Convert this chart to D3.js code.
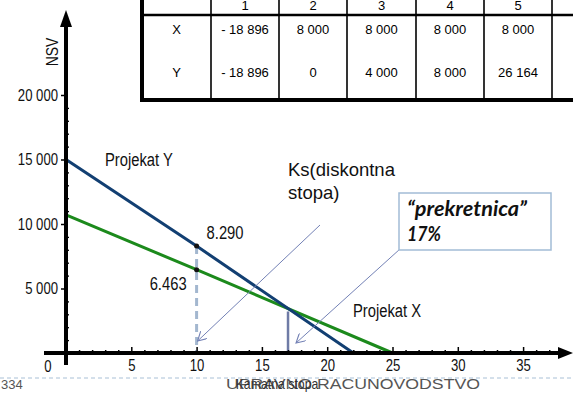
<!DOCTYPE html>
<html><head><meta charset="utf-8">
<script src="https://cdnjs.cloudflare.com/ajax/libs/d3/7.8.5/d3.min.js"></script>
<style>
html,body{margin:0;padding:0;background:#fff;}
svg{display:block;}
</style></head>
<body>
<script>
// ---- data ----
const projYRates = [0, 10, 22];
const projYNpv   = [15000, 8290, 0];
const projXRates = [0, 10, 25];
const projXNpv   = [10700, 6463, 0];
const crossRate = 17;
const crossNpv = 3450;
const discRate = 10;
const xTicks = [5, 10, 15, 20, 25, 30, 35];
const yTicks = [5000, 10000, 15000, 20000];
const tableCols = ["1", "2", "3", "4", "5", "6"];
const tableRowLabels = ["X", "Y"];
const tableRowX = ["- 18 896", "8 000", "8 000", "8 000", "8 000", "8 000"];
const tableRowY = ["- 18 896", "0", "4 000", "8 000", "26 164", "26 164"];

const W = 573, H = 394;
const NARROW = "'Liberation Sans',Arial,sans-serif";
const ARIAL = "'Liberation Sans',Arial,sans-serif";
const svg = d3.select("body").append("svg").attr("width", W).attr("height", H);

// emulate a condensed face by compressing glyphs horizontally
function squeeze(sel, k) {
  sel.each(function() {
    const L = this.getComputedTextLength();
    d3.select(this).attr("textLength", L * (k || 0.82)).attr("lengthAdjust", "spacingAndGlyphs");
  });
}

const defs = svg.append("defs");
defs.append("marker").attr("id","open").attr("viewBox","0 0 10 10").attr("refX",9).attr("refY",5)
  .attr("markerWidth",10).attr("markerHeight",10).attr("markerUnits","userSpaceOnUse").attr("orient","auto")
  .append("path").attr("d","M0,0 L9,5 L0,10").attr("fill","none").attr("stroke","#7381b5").attr("stroke-width",1.1);

const x = d3.scaleLinear().domain([0, 38]).range([66, 66 + 38 * 13.06]);
const y = d3.scaleLinear().domain([0, 20000]).range([353, 95]);
const loc = d3.formatLocale({decimal: ".", thousands: " ", grouping: [3], currency: ["", ""]});
const fmt = loc.format(",");

// footer
svg.append("line").attr("x1",0).attr("x2",W).attr("y1",378).attr("y2",378)
  .attr("stroke","#a9c0d6").attr("stroke-width",1).attr("stroke-dasharray","4,3");
svg.append("text").attr("x",1).attr("y",389).text("334")
  .attr("font-family",ARIAL).attr("font-size",13).attr("fill","#555");
svg.append("text").attr("x",226).attr("y",389).text("UPRAVNO RACUNOVODSTVO")
  .attr("font-family",ARIAL).attr("font-size",14).attr("fill","#555").attr("textLength",254).attr("lengthAdjust","spacingAndGlyphs");

// table
const tg = svg.append("g");
const colX = [142, 211, 279, 347, 416, 484, 552, 620];
tg.append("rect").attr("x",142).attr("y",-5).attr("width",500).attr("height",105).attr("fill","#fff");
colX.slice(1).forEach(cx => tg.append("line").attr("x1",cx).attr("x2",cx).attr("y1",0).attr("y2",100).attr("stroke","#000").attr("stroke-width",1.6));
tg.append("line").attr("x1",142).attr("x2",W).attr("y1",15).attr("y2",15).attr("stroke","#000").attr("stroke-width",2.5);
tg.append("line").attr("x1",142).attr("x2",142).attr("y1",0).attr("y2",102).attr("stroke","#000").attr("stroke-width",4);
tg.append("line").attr("x1",140).attr("x2",W).attr("y1",100).attr("y2",100).attr("stroke","#000").attr("stroke-width",4);
const cellC = i => (colX[i] + colX[i+1]) / 2;
tableCols.forEach((c, i) => tg.append("text").attr("x", cellC(i+1)).attr("y", 10).attr("text-anchor","middle").text(c)
  .attr("font-family",ARIAL).attr("font-size",13));
[tableRowX, tableRowY].forEach((row, r) => {
  const yy = r === 0 ? 34 : 77;
  tg.append("text").attr("x", cellC(0)).attr("y", yy).attr("text-anchor","middle").text(tableRowLabels[r])
    .attr("font-family",ARIAL).attr("font-size",13);
  row.forEach((v, i) => tg.append("text").attr("x", cellC(i+1) + (i === 5 ? 8 : 0)).attr("y", yy).attr("text-anchor","middle").text(v)
    .attr("font-family",ARIAL).attr("font-size",13));
});

// guide lines
svg.append("line").attr("x1",x(discRate)).attr("x2",x(discRate)).attr("y1",y(8290)).attr("y2",y(0))
  .attr("stroke","#a3b7cf").attr("stroke-width",3).attr("stroke-dasharray","8,5");
svg.append("line").attr("x1",x(crossRate)).attr("x2",x(crossRate)).attr("y1",y(crossNpv)+3).attr("y2",y(0))
  .attr("stroke","#6f7ba6").attr("stroke-width",2.5);

// lines
const line = d3.line().x(d => x(d[0])).y(d => y(d[1]));
svg.append("path").datum(projXRates.map((r,i)=>[r, projXNpv[i]])).attr("d", line)
  .attr("fill","none").attr("stroke","#1c8a1c").attr("stroke-width",3);
svg.append("path").datum(projYRates.map((r,i)=>[r, projYNpv[i]])).attr("d", line)
  .attr("fill","none").attr("stroke","#123f72").attr("stroke-width",3);

// dots
[projYNpv[1], projXNpv[1]].forEach(v => svg.append("circle").attr("cx",x(discRate)).attr("cy",y(v)).attr("r",2.5).attr("fill","#111"));

// axes
const xMinor = d3.range(1, 38).filter(v => v % 5 !== 0);
svg.append("g").attr("transform",`translate(0,${y(0)})`)
  .call(d3.axisBottom(x).tickValues(xMinor).tickSizeInner(-3).tickSizeOuter(0).tickFormat(""))
  .call(g => { g.select(".domain").remove(); g.selectAll("line").attr("stroke","#000").attr("stroke-width",1.5); });
svg.append("g").attr("transform",`translate(0,${y(0)})`)
  .call(d3.axisBottom(x).tickValues(xTicks).tickSizeInner(-6).tickSizeOuter(0).tickPadding(7))
  .call(g => { g.select(".domain").remove(); g.selectAll("line").attr("stroke","#000").attr("stroke-width",1.5);
    g.selectAll("text").attr("font-family",NARROW).attr("font-size",16).attr("fill","#111").call(squeeze); });
const yMinor = d3.range(1000, 21000, 1000).filter(v => v % 5000 !== 0);
svg.append("g").attr("transform",`translate(${x(0)},0)`)
  .call(d3.axisRight(y).tickValues(yMinor).tickSizeInner(3).tickSizeOuter(0).tickFormat(""))
  .call(g => { g.select(".domain").remove(); g.selectAll("line").attr("stroke","#000").attr("stroke-width",1.3); });
svg.append("g").attr("transform",`translate(${x(0)},0)`)
  .call(d3.axisLeft(y).tickValues(yTicks).tickSizeInner(5).tickSizeOuter(0).tickPadding(3).tickFormat(fmt))
  .call(g => { g.select(".domain").remove(); g.selectAll("line").attr("stroke","#000").attr("stroke-width",1.5);
    g.selectAll("text").attr("font-family",NARROW).attr("font-size",16).attr("fill","#111").call(squeeze); });

// axis lines + arrows
svg.append("line").attr("x1",44).attr("x2",562).attr("y1",y(0)).attr("y2",y(0)).attr("stroke","#000").attr("stroke-width",4);
svg.append("path").attr("d",`M573,${y(0)} L558,${y(0)-6} L558,${y(0)+6} Z`).attr("fill","#000");
svg.append("line").attr("x1",x(0)).attr("x2",x(0)).attr("y1",24).attr("y2",365).attr("stroke","#000").attr("stroke-width",4);
svg.append("path").attr("d",`M${x(0)},10 L${x(0)-6},27 L${x(0)+6},27 Z`).attr("fill","#000");
svg.append("text").attr("x",48).attr("y",372).attr("text-anchor","middle").text("0")
  .attr("font-family",NARROW).attr("font-size",16).attr("fill","#111").call(squeeze);
svg.append("text").attr("transform","translate(58,52) rotate(-90)").attr("text-anchor","middle").text("NSV")
  .attr("font-family",NARROW).attr("font-size",17).attr("fill","#111").call(squeeze);
svg.append("text").attr("x",277).attr("y",389).attr("text-anchor","middle").text("Kamatna stopa")
  .attr("font-family",NARROW).attr("font-size",15).attr("fill","#333").call(squeeze);

// annotations
const ann = (t, xx, yy, size, fam, anchor) => svg.append("text").attr("x",xx).attr("y",yy).text(t)
  .attr("font-family",fam).attr("font-size",size).attr("fill","#111").attr("text-anchor",anchor||"start");
ann("Projekat Y", 105, 166, 18, NARROW).call(squeeze);
ann("Projekat X", 353, 317, 18, NARROW).call(squeeze);
ann("8.290", x(discRate)+10, y(projYNpv[1])-7, 18, NARROW).call(squeeze);
ann("6.463", x(discRate)-10, y(projXNpv[1])+20, 18, NARROW, "end").call(squeeze);
ann("Ks(diskontna", 288, 176, 18.5, ARIAL);
ann("stopa)", 288, 199, 18.5, ARIAL);

svg.append("line").attr("x1",320).attr("y1",225).attr("x2",x(discRate)+1).attr("y2",y(0)-12)
  .attr("stroke","#7381b5").attr("stroke-width",1).attr("marker-end","url(#open)");
svg.append("line").attr("x1",400).attr("y1",249).attr("x2",x(crossRate)+8).attr("y2",y(0)-10)
  .attr("stroke","#7381b5").attr("stroke-width",1).attr("marker-end","url(#open)");

svg.append("rect").attr("x",399).attr("y",193).attr("width",152).attr("height",57)
  .attr("fill","#fff").attr("stroke","#a2bcd6").attr("stroke-width",1.5);
svg.append("text").attr("x",407).attr("y",216).text("“prekretnica”")
  .attr("font-family","Lato,'Open Sans',sans-serif").attr("font-style","italic").attr("font-weight","bold").attr("font-size",20).attr("fill","#111")
  .attr("textLength",120).attr("lengthAdjust","spacingAndGlyphs");
svg.append("text").attr("x",407).attr("y",241).text(crossRate + "%")
  .attr("font-family","Lato,'Open Sans',sans-serif").attr("font-style","italic").attr("font-weight","bold").attr("font-size",20).attr("fill","#111")
  .attr("textLength",34).attr("lengthAdjust","spacingAndGlyphs");
</script>
</body></html>
